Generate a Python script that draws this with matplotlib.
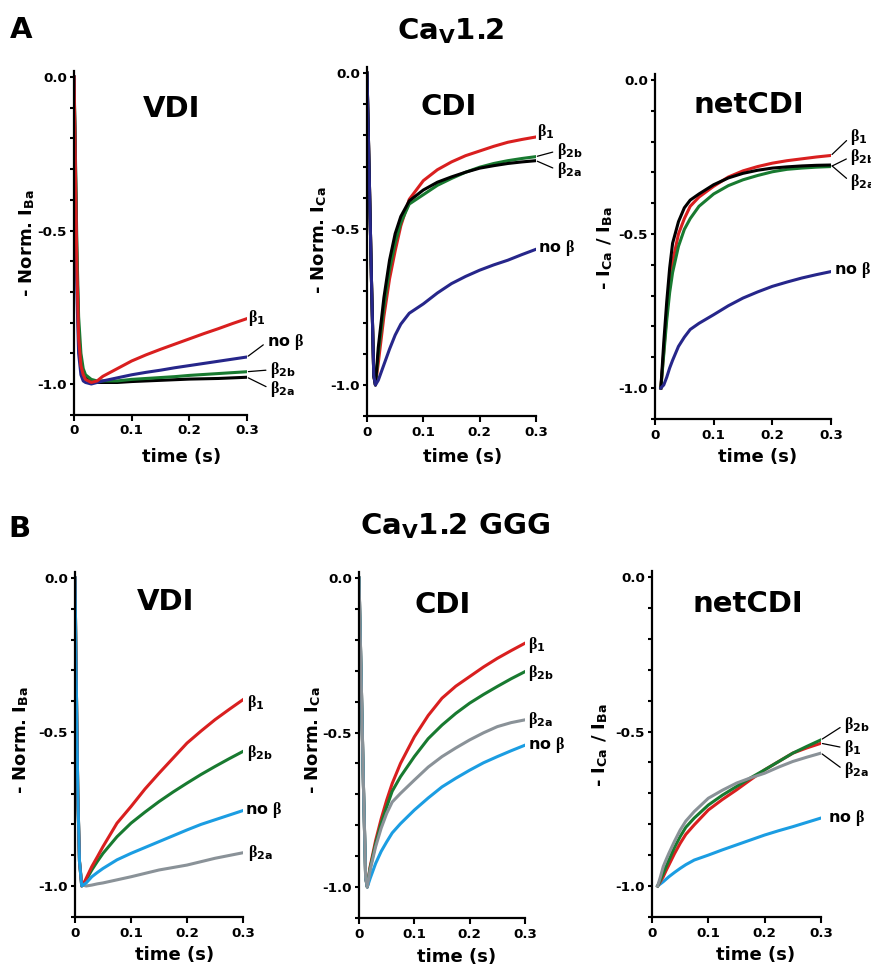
import matplotlib
matplotlib.use("Agg")
import matplotlib.pyplot as plt

plt.rcParams['font.family'] = ['DejaVu Sans']
plt.rcParams['font.weight'] = 'bold'
plt.rcParams['mathtext.fontset'] = 'custom'
plt.rcParams['mathtext.rm'] = 'Liberation Serif'
plt.rcParams['mathtext.bf'] = 'DejaVu Sans:bold'
plt.rcParams['mathtext.it'] = 'Liberation Serif:italic'
plt.rcParams['axes.unicode_minus'] = False

W, H = 871, 969

# ---------------- data ----------------
T_VDI = [0, 0.002, 0.005, 0.008, 0.012, 0.016, 0.02, 0.03, 0.04, 0.05, 0.075, 0.1,
         0.125, 0.15, 0.175, 0.2, 0.225, 0.25, 0.275, 0.3]
T_CDI = [0, 0.004, 0.008, 0.012, 0.015, 0.02, 0.03, 0.04, 0.05, 0.06, 0.075, 0.1,
         0.125, 0.15, 0.175, 0.2, 0.225, 0.25, 0.275, 0.3]
T_NET = [0.01, 0.015, 0.02, 0.025, 0.03, 0.04, 0.05, 0.06, 0.075, 0.1, 0.125, 0.15,
         0.175, 0.2, 0.225, 0.25, 0.275, 0.3]

# Panel A : CaV1.2
A_VDI_b1  = [0, -0.25, -0.62, -0.85, -0.94, -0.97, -0.985, -0.995, -0.99, -0.975, -0.95, -0.925,
             -0.905, -0.887, -0.87, -0.853, -0.836, -0.82, -0.803, -0.787]
A_VDI_nob = [0, -0.3, -0.7, -0.9, -0.97, -0.99, -0.995, -1.0, -0.995, -0.99, -0.98, -0.97,
             -0.962, -0.955, -0.947, -0.94, -0.933, -0.926, -0.919, -0.912]
A_VDI_b2b = [0, -0.2, -0.55, -0.78, -0.9, -0.95, -0.97, -0.985, -0.99, -0.99, -0.99, -0.985,
             -0.982, -0.979, -0.976, -0.972, -0.969, -0.966, -0.963, -0.96]
A_VDI_b2a = [0, -0.22, -0.6, -0.83, -0.93, -0.965, -0.98, -0.99, -0.995, -0.995, -0.995, -0.992,
             -0.99, -0.988, -0.986, -0.984, -0.983, -0.982, -0.98, -0.978]

A_CDI_b1  = [0, -0.33, -0.67, -0.97, -1.0, -0.93, -0.78, -0.66, -0.57, -0.49, -0.405, -0.345,
             -0.31, -0.285, -0.265, -0.25, -0.235, -0.222, -0.213, -0.205]
A_CDI_b2a = [0, -0.33, -0.67, -0.97, -1.0, -0.88, -0.72, -0.6, -0.515, -0.46, -0.41, -0.375,
             -0.35, -0.333, -0.318, -0.305, -0.297, -0.29, -0.285, -0.281]
A_CDI_b2b = [0, -0.33, -0.67, -0.97, -1.0, -0.9, -0.75, -0.63, -0.545, -0.48, -0.42, -0.39,
             -0.36, -0.338, -0.318, -0.302, -0.29, -0.281, -0.274, -0.268]
A_CDI_nob = [0, -0.33, -0.67, -0.97, -1.0, -0.985, -0.935, -0.885, -0.84, -0.805, -0.77, -0.74,
             -0.705, -0.675, -0.652, -0.632, -0.615, -0.6, -0.582, -0.565]

A_NET_b2a = [-1.0, -0.85, -0.72, -0.61, -0.53, -0.46, -0.415, -0.39, -0.37, -0.34, -0.318, -0.303,
             -0.293, -0.286, -0.282, -0.279, -0.277, -0.276]
A_NET_b1  = [-1.0, -0.88, -0.76, -0.66, -0.59, -0.5, -0.45, -0.41, -0.38, -0.345, -0.315, -0.295,
             -0.281, -0.27, -0.262, -0.256, -0.25, -0.245]
A_NET_b2b = [-1.0, -0.89, -0.78, -0.69, -0.625, -0.54, -0.485, -0.45, -0.41, -0.37, -0.343, -0.324,
             -0.31, -0.298, -0.29, -0.286, -0.283, -0.281]
A_NET_nob = [-1.0, -0.99, -0.965, -0.935, -0.91, -0.865, -0.835, -0.81, -0.79, -0.762, -0.733, -0.708,
             -0.688, -0.67, -0.656, -0.643, -0.632, -0.622]

# Panel B : CaV1.2 GGG
B_VDI_b1  = [0, -0.3, -0.7, -0.92, -1.0, -0.99, -0.975, -0.937, -0.905, -0.872, -0.796, -0.742,
             -0.685, -0.634, -0.585, -0.536, -0.497, -0.46, -0.427, -0.395]
B_VDI_b2b = [0, -0.3, -0.7, -0.92, -1.0, -0.99, -0.98, -0.948, -0.92, -0.894, -0.84, -0.796,
             -0.76, -0.726, -0.695, -0.666, -0.638, -0.612, -0.587, -0.563]
B_VDI_nob = [0, -0.3, -0.7, -0.92, -1.0, -0.995, -0.99, -0.97, -0.956, -0.943, -0.915, -0.894,
             -0.875, -0.856, -0.837, -0.818, -0.8, -0.785, -0.77, -0.755]
B_VDI_b2a = [0, -0.3, -0.7, -0.92, -0.99, -0.998, -1.0, -0.997, -0.993, -0.99, -0.98, -0.97,
             -0.959, -0.948, -0.94, -0.932, -0.921, -0.91, -0.901, -0.892]

B_CDI_b1  = [0, -0.33, -0.67, -0.97, -1.0, -0.935, -0.85, -0.78, -0.719, -0.665, -0.6, -0.514,
             -0.445, -0.389, -0.35, -0.319, -0.288, -0.26, -0.235, -0.211]
B_CDI_b2b = [0, -0.33, -0.67, -0.97, -1.0, -0.94, -0.86, -0.795, -0.741, -0.69, -0.643, -0.578,
             -0.52, -0.476, -0.438, -0.405, -0.377, -0.351, -0.326, -0.303]
B_CDI_b2a = [0, -0.33, -0.67, -0.97, -1.0, -0.946, -0.87, -0.81, -0.762, -0.725, -0.697, -0.654,
             -0.612, -0.578, -0.55, -0.524, -0.501, -0.481, -0.468, -0.459]
B_CDI_nob = [0, -0.33, -0.67, -0.97, -1.0, -0.973, -0.924, -0.885, -0.854, -0.825, -0.795, -0.751,
             -0.712, -0.676, -0.648, -0.622, -0.598, -0.578, -0.559, -0.541]

B_NET_b1  = [-1.0, -0.985, -0.97, -0.95, -0.932, -0.895, -0.862, -0.833, -0.802, -0.754, -0.72, -0.689,
             -0.656, -0.624, -0.597, -0.57, -0.553, -0.538]
B_NET_b2b = [-1.0, -0.98, -0.959, -0.937, -0.916, -0.875, -0.84, -0.81, -0.78, -0.738, -0.706, -0.678,
             -0.65, -0.624, -0.597, -0.57, -0.548, -0.527]
B_NET_b2a = [-1.0, -0.97, -0.937, -0.915, -0.894, -0.855, -0.819, -0.79, -0.759, -0.716, -0.69, -0.667,
             -0.65, -0.635, -0.615, -0.597, -0.583, -0.57]
B_NET_nob = [-1.0, -0.993, -0.986, -0.978, -0.97, -0.956, -0.943, -0.931, -0.916, -0.9, -0.883, -0.867,
             -0.851, -0.835, -0.821, -0.808, -0.794, -0.78]

X_TICKS = [0, 0.1, 0.2, 0.3]
X_TICKLABELS = ['0', '0.1', '0.2', '0.3']
Y_TICKS = [0.0, -0.5, -1.0]
Y_TICKLABELS = ['0.0', '-0.5', '-1.0']
Y_MINOR = [-0.1, -0.2, -0.3, -0.4, -0.6, -0.7, -0.8, -0.9, -1.1]

RED = '#d91f1f'
NAVY = '#26268a'
GREEN = '#187a30'
BLACK = '#000000'
LBLUE = '#1b9de2'
GRAY = '#8a9298'

B1 = r'$\mathrm{\beta}_{\mathbf{1}}$'
B2A = r'$\mathrm{\beta}_{\mathbf{2a}}$'
B2B = r'$\mathrm{\beta}_{\mathbf{2b}}$'
NOB = r'no $\mathrm{\beta}$'

fig = plt.figure(figsize=(W / 100, H / 100), dpi=100)

YMIN, YMAX = -1.1, 0.02


def make_ax(x0, x3, y0, y1):
    s = y1 - y0
    top = y0 - YMAX * s
    bot = y0 - YMIN * s
    ax = fig.add_axes([x0 / W, 1 - bot / H, (x3 - x0) / W, (bot - top) / H])
    ax.set_xlim(0, 0.3)
    ax.set_ylim(YMIN, YMAX)
    for sp in ('top', 'right'):
        ax.spines[sp].set_visible(False)
    for sp in ('left', 'bottom'):
        ax.spines[sp].set_linewidth(1.6)
    ax.set_xticks(X_TICKS, labels=X_TICKLABELS)
    ax.set_yticks(Y_TICKS, labels=Y_TICKLABELS)
    ax.set_yticks(Y_MINOR, minor=True)
    ax.tick_params(axis='both', which='both', direction='out', width=1.5, labelsize=9.7)
    ax.tick_params(axis='y', which='both', length=3, pad=2)
    ax.tick_params(axis='x', which='both', length=4, pad=3)
    for lab in ax.get_xticklabels() + ax.get_yticklabels():
        lab.set_fontweight('bold')
    return ax


def ftext(px, py, s, **kw):
    return fig.text(px / W, 1 - py / H, s, **kw)


def label(ax, s, pos, end=None):
    if end is None:
        ax.text(pos[0], pos[1], s, ha='left', va='center', fontsize=11.5,
                fontweight='bold', clip_on=False)
    else:
        ax.annotate(s, xy=end, xytext=pos, ha='left', va='center', fontsize=11.5,
                    fontweight='bold', annotation_clip=False,
                    arrowprops=dict(arrowstyle='-', lw=0.9, color='black',
                                    relpos=(0, 0.5), shrinkA=1, shrinkB=1))


LW = 2.2

# ---- A VDI ----
ax = make_ax(74, 247, 77, 384)
ax.plot(T_VDI, A_VDI_b2a, color=BLACK, lw=LW)
ax.plot(T_VDI, A_VDI_b2b, color=GREEN, lw=LW)
ax.plot(T_VDI, A_VDI_nob, color=NAVY, lw=LW)
ax.plot(T_VDI, A_VDI_b1, color=RED, lw=LW)
label(ax, B1, (0.302, -0.785))
label(ax, NOB, (0.335, -0.863), (T_VDI[-1], A_VDI_nob[-1]))
label(ax, B2B, (0.34, -0.954), (T_VDI[-1], A_VDI_b2b[-1]))
label(ax, B2A, (0.34, -1.015), (T_VDI[-1], A_VDI_b2a[-1]))

# ---- A CDI ----
ax = make_ax(367, 536, 73, 385)
ax.plot(T_CDI, A_CDI_b1, color=RED, lw=LW)
ax.plot(T_CDI, A_CDI_b2b, color=GREEN, lw=LW)
ax.plot(T_CDI, A_CDI_b2a, color=BLACK, lw=LW)
ax.plot(T_CDI, A_CDI_nob, color=NAVY, lw=LW)
label(ax, B1, (0.302, -0.189))
label(ax, B2B, (0.337, -0.25), (T_CDI[-1], A_CDI_b2b[-1]))
label(ax, B2A, (0.337, -0.31), (T_CDI[-1], A_CDI_b2a[-1]))
label(ax, NOB, (0.303, -0.561))

# ---- A netCDI ----
ax = make_ax(655, 831, 80, 388)
ax.plot(T_NET, A_NET_b1, color=RED, lw=LW)
ax.plot(T_NET, A_NET_b2b, color=GREEN, lw=LW)
ax.plot(T_NET, A_NET_b2a, color=BLACK, lw=LW)
ax.plot(T_NET, A_NET_nob, color=NAVY, lw=LW)
label(ax, B1, (0.333, -0.185), (T_NET[-1], A_NET_b1[-1]))
label(ax, B2B, (0.333, -0.25), (T_NET[-1], A_NET_b2b[-1]))
label(ax, B2A, (0.333, -0.33), (T_NET[-1], A_NET_b2a[-1]))
label(ax, NOB, (0.305, -0.617))

# ---- B VDI ----
ax = make_ax(75, 243, 578, 886)
ax.plot(T_VDI, B_VDI_b2a, color=GRAY, lw=LW)
ax.plot(T_VDI, B_VDI_b2b, color=GREEN, lw=LW)
ax.plot(T_VDI, B_VDI_b1, color=RED, lw=LW)
ax.plot(T_VDI, B_VDI_nob, color=LBLUE, lw=LW)
label(ax, B1, (0.307, -0.406))
label(ax, B2B, (0.307, -0.568))
label(ax, NOB, (0.304, -0.753))
label(ax, B2A, (0.309, -0.893))

# ---- B CDI ----
ax = make_ax(359, 525, 578, 887)
ax.plot(T_CDI, B_CDI_b1, color=RED, lw=LW)
ax.plot(T_CDI, B_CDI_b2b, color=GREEN, lw=LW)
ax.plot(T_CDI, B_CDI_nob, color=LBLUE, lw=LW)
ax.plot(T_CDI, B_CDI_b2a, color=GRAY, lw=LW)
label(ax, B1, (0.305, -0.217))
label(ax, B2B, (0.305, -0.307))
label(ax, B2A, (0.305, -0.46))
label(ax, NOB, (0.305, -0.54))

# ---- B netCDI ----
ax = make_ax(652, 821, 577, 886)
ax.plot(T_NET, B_NET_nob, color=LBLUE, lw=LW)
ax.plot(T_NET, B_NET_b1, color=RED, lw=LW)
ax.plot(T_NET, B_NET_b2b, color=GREEN, lw=LW)
ax.plot(T_NET, B_NET_b2a, color=GRAY, lw=LW)
label(ax, B2B, (0.341, -0.479), (T_NET[-1], B_NET_b2b[-1]))
label(ax, B1, (0.341, -0.553), (T_NET[-1], B_NET_b1[-1]))
label(ax, B2A, (0.341, -0.625), (T_NET[-1], B_NET_b2a[-1]))
label(ax, NOB, (0.312, -0.78))

# ---------------- texts ----------------
ftext(10, 38, 'A', fontsize=21, fontweight='bold', ha='left', va='baseline')
ftext(8, 537, 'B', fontsize=21, fontweight='bold', ha='left', va='baseline')
ftext(451, 40, r'Ca$_{\mathbf{V}}$1.2', fontsize=21, fontweight='bold', ha='center', va='baseline')
ftext(455, 535, r'Ca$_{\mathbf{V}}$1.2 GGG', fontsize=21, fontweight='bold', ha='center', va='baseline')

for (x, y, s) in [(172, 117, 'VDI'), (449, 115, 'CDI'), (749, 113, 'netCDI'),
                  (166, 610, 'VDI'), (443, 613, 'CDI'), (748, 612, 'netCDI')]:
    ftext(x, y, s, fontsize=21, fontweight='bold', ha='center', va='baseline')

for (x, y) in [(182, 457), (463, 457), (758, 457), (175, 955), (457, 957), (756, 955)]:
    ftext(x, y, 'time (s)', fontsize=13, fontweight='bold', ha='center', va='center')

YL_NORM_BA = r'- Norm. I$_{\mathbf{Ba}}$'
YL_NORM_CA = r'- Norm. I$_{\mathbf{Ca}}$'
YL_NET = r'- I$_{\mathbf{Ca}}$ / I$_{\mathbf{Ba}}$'
for (x, y, s) in [(27, 243, YL_NORM_BA), (319, 240, YL_NORM_CA), (605, 248, YL_NET),
                  (21, 740, YL_NORM_BA), (313, 740, YL_NORM_CA), (600, 745, YL_NET)]:
    ftext(x, y, s, fontsize=13, fontweight='bold', ha='center', va='center', rotation=90)

fig.savefig('out.png', dpi=100)
